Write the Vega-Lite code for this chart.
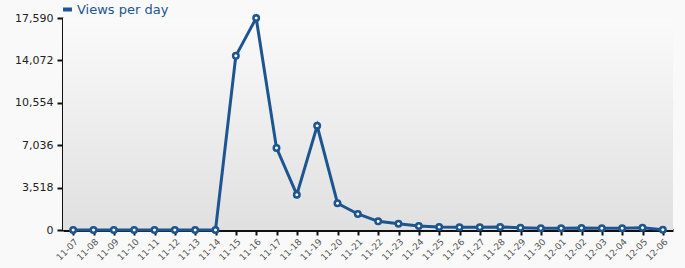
{
  "$schema": "https://vega.github.io/schema/vega-lite/v6.json",
  "width": 610,
  "height": 212,
  "autosize": {"type": "none"},
  "padding": {"left": 63, "top": 18, "right": 12, "bottom": 38},
  "background": "#f9f9f9",
  "config": {
    "view": {"stroke": null},
    "font": "DejaVu Sans"
  },
  "data": {
    "values": [
      {"day": "11-07", "views": 0},
      {"day": "11-08", "views": 0},
      {"day": "11-09", "views": 0},
      {"day": "11-10", "views": 0},
      {"day": "11-11", "views": 0},
      {"day": "11-12", "views": 0},
      {"day": "11-13", "views": 0},
      {"day": "11-14", "views": 0},
      {"day": "11-15", "views": 14450},
      {"day": "11-16", "views": 17590},
      {"day": "11-17", "views": 6810},
      {"day": "11-18", "views": 2930},
      {"day": "11-19", "views": 8650},
      {"day": "11-20", "views": 2220},
      {"day": "11-21", "views": 1330},
      {"day": "11-22", "views": 720},
      {"day": "11-23", "views": 520},
      {"day": "11-24", "views": 330},
      {"day": "11-25", "views": 250},
      {"day": "11-26", "views": 225},
      {"day": "11-27", "views": 225},
      {"day": "11-28", "views": 250},
      {"day": "11-29", "views": 190},
      {"day": "11-30", "views": 140},
      {"day": "12-01", "views": 140},
      {"day": "12-02", "views": 165},
      {"day": "12-03", "views": 140},
      {"day": "12-04", "views": 140},
      {"day": "12-05", "views": 190},
      {"day": "12-06", "views": 25}
    ]
  },
  "layer": [
    {
      "mark": {
        "type": "rect",
        "color": {
          "gradient": "linear",
          "x1": 0, "y1": 0, "x2": 0, "y2": 1,
          "stops": [
            {"offset": 0, "color": "#fafafa"},
            {"offset": 1, "color": "#e0e0e0"}
          ]
        }
      },
      "encoding": {}
    },
    {
      "mark": {"type": "line", "strokeWidth": 3, "point": {"filled": true, "fill": "#ffffff", "stroke": "#1c5590", "strokeWidth": 2.5, "size": 30}},
      "encoding": {
        "x": {
          "field": "day",
          "type": "ordinal",
          "scale": {"type": "point", "padding": 0.5},
          "axis": {
            "title": null,
            "labelAngle": -45,
            "labelAlign": "right",
            "labelBaseline": "top",
            "labelFontSize": 9,
            "labelColor": "#555555",
            "labelPadding": 2,
            "domainColor": "#111111",
            "domainWidth": 3,
            "tickColor": "#111111",
            "tickWidth": 2,
            "tickSize": 5,
            "grid": true,
            "gridColor": "#e3ecfa",
            "gridWidth": 1
          }
        },
        "y": {
          "field": "views",
          "type": "quantitative",
          "scale": {"domain": [0, 17590], "nice": false},
          "axis": {
            "title": null,
            "values": [0, 3518, 7036, 10554, 14072, 17590],
            "format": ",d",
            "labelFontSize": 11,
            "labelColor": "#222222",
            "labelPadding": 4,
            "domainColor": "#111111",
            "domainWidth": 3,
            "tickColor": "#111111",
            "tickWidth": 2,
            "tickSize": 6,
            "grid": true,
            "gridColor": "#dde8fa",
            "gridWidth": 1
          }
        },
        "color": {
          "datum": "Views per day",
          "scale": {"range": ["#1c5590"]},
          "legend": {
            "title": null,
            "orient": "none",
            "legendX": -2,
            "legendY": -15,
            "symbolType": "stroke",
            "symbolStrokeWidth": 4,
            "symbolSize": 80,
            "labelFontSize": 13,
            "labelColor": "#1c5590",
            "labelOffset": 3,
            "padding": 0
          }
        }
      }
    }
  ]
}
